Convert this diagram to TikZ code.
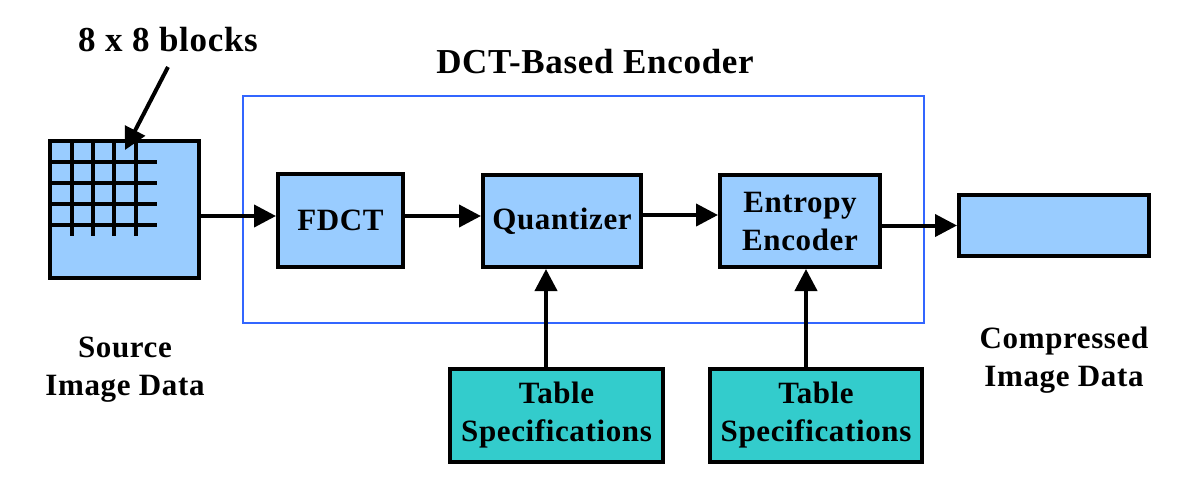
\documentclass[tikz,border=0pt]{standalone}
\usepackage{fontspec}
\setmainfont{Liberation Serif}[LetterSpace=2]
\usetikzlibrary{arrows.meta,calc}
\definecolor{boxblue}{RGB}{153,204,255}
\definecolor{tealbox}{RGB}{51,204,204}
\definecolor{frameblue}{RGB}{51,102,255}
\tikzset{
  blk/.style={draw=black, line width=4pt, fill=boxblue, inner sep=0pt, align=center,
              font=\bfseries\fontsize{31}{38}\selectfont},
  tbl/.style={blk, fill=tealbox},
  lbl/.style={align=center, inner sep=0pt, font=\bfseries\fontsize{31}{38}\selectfont},
  head/.style={align=center, inner sep=0pt, font=\bfseries\fontsize{35}{42}\selectfont},
  arr/.style={line width=4pt, -{Triangle[length=22pt,width=22pt]}},
  gridln/.style={line width=4pt}
}
\begin{document}
\begin{tikzpicture}[x=1pt,y=-1pt]
\useasboundingbox (0,0) rectangle (1190,501);
% encoder frame
\node[draw=frameblue, line width=2pt, minimum width=681pt, minimum height=227pt, inner sep=0pt] (frame) at (583.5,209.5) {};
\node[head] (title) at (595,62) {DCT-Based Encoder};
% source image
\node[blk, minimum width=149pt, minimum height=137pt] (src) at (124.5,209.5) {};
\foreach \y in {162,183,204,225} \draw[gridln] (48,\y) -- (157,\y);
\foreach \x in {72,93,114,136} \draw[gridln] (\x,139) -- (\x,236);
\node[head] (blocks) at (168,40) {8 x 8 blocks};
\coordinate (bstart) at (168,67);
\coordinate (btip) at (125,150);
\draw[arr] (bstart) -- (btip);
\node[lbl] (srclbl) at (125,370) {Source\\Image Data};
% blocks
\node[blk, minimum width=125pt, minimum height=93pt] (fdct) at (340.5,220.5) {FDCT};
\node[blk, minimum width=158pt, minimum height=92pt] (quant) at (562,221) {Quantizer};
\node[blk, minimum width=160pt, minimum height=92pt] (ent) at (800,221) {Entropy\\Encoder};
\node[blk, minimum width=190pt, minimum height=61pt] (out) at (1054,225.5) {};
\node[lbl] (outlbl) at (1064,360) {Compressed\\Image Data};
\node[tbl, minimum width=213pt, minimum height=93pt] (tab1) at (556.5,415.5) {Table\\Specifications};
\node[tbl, minimum width=212pt, minimum height=93pt] (tab2) at (816,415.5) {Table\\Specifications};
% connectors
\draw[arr] (src.east |- 0,216) -- (fdct.west |- 0,216);
\draw[arr] (fdct.east |- 0,216) -- (quant.west |- 0,216);
\draw[arr] (quant.east |- 0,215) -- (ent.west |- 0,215);
\draw[arr] (ent.east |- out.west) -- (out.west);
\draw[arr] ([xshift=-10.5pt]tab1.north) -- ([xshift=-10.5pt]tab1.north |- quant.south);
\draw[arr] ([xshift=-10pt]tab2.north) -- ([xshift=-10pt]tab2.north |- ent.south);
\end{tikzpicture}
\end{document}
